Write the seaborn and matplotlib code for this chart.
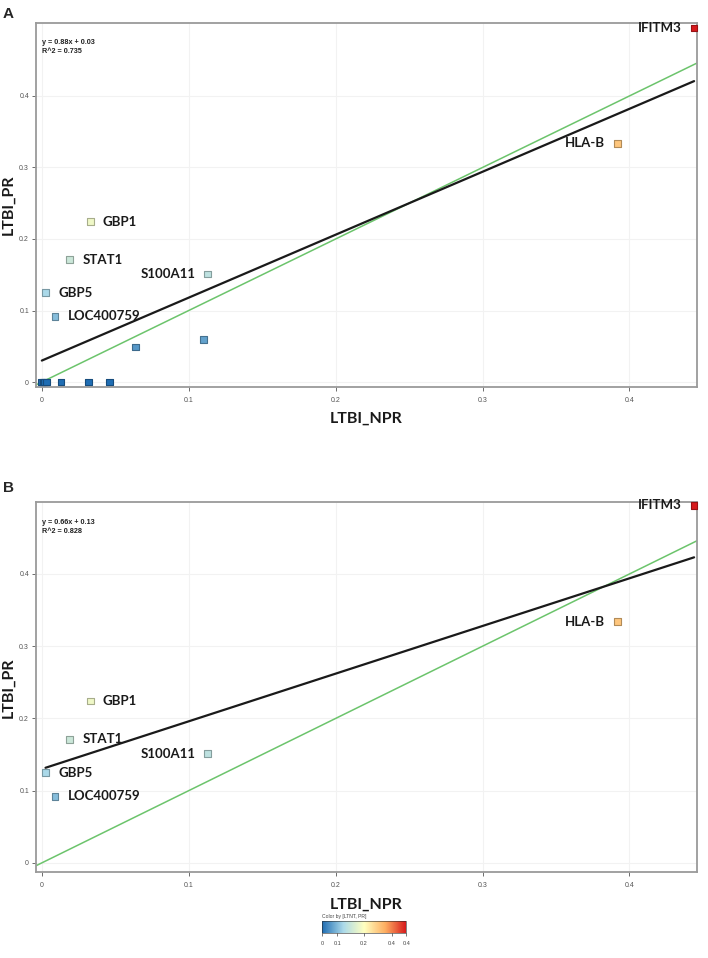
import matplotlib
matplotlib.use("Agg")
import matplotlib.pyplot as plt
import matplotlib.colors as mcolors
import numpy as np
import pandas as pd
import seaborn as sns

# ── Data ──────────────────────────────────────────────────────────────────────
genes = ["IFITM3", "HLA-B", "GBP1", "STAT1", "S100A11", "GBP5", "LOC400759"]
npr = [0.444, 0.392, 0.033, 0.019, 0.113, 0.0025, 0.009]
pr = [0.495, 0.334, 0.224, 0.171, 0.151, 0.125, 0.092]

# unlabelled genes only shown in panel A
npr_extra = [0.064, 0.110, 0.0, 0.001, 0.002, 0.003, 0.013, 0.032, 0.046]
pr_extra = [0.049, 0.060, 0.0, 0.0, 0.0, 0.0, 0.0, 0.0, 0.0]

fit_a = (0.88, 0.03, 0.735)
fit_b = (0.66, 0.13, 0.828)

x_ticks = [0, 0.1, 0.2, 0.3, 0.4]
y_ticks = [0, 0.1, 0.2, 0.3, 0.4]
cbar_ticks = [0, 0.09, 0.245, 0.41, 0.495]
cbar_labels = ["0", "0.1", "0.2", "0.4", "0.4"]

# label placement: side of the marker
label_side = {"IFITM3": "left", "HLA-B": "left", "S100A11": "left",
              "GBP1": "right", "STAT1": "right", "GBP5": "right", "LOC400759": "right"}

CMAP = mcolors.LinearSegmentedColormap.from_list(
    "ltbi", ["#1f6db3", "#abd9e9", "#ffffbf", "#fdae61", "#d7191c"])
NORM = mcolors.Normalize(vmin=0, vmax=0.495)
LABEL_FONT = ["Lato", "DejaVu Sans"]

sns.set_theme(style="white")
plt.rcParams["font.family"] = ["Liberation Sans", "DejaVu Sans"]

fig = plt.figure(figsize=(7.08, 9.58), dpi=100)
ax_a = fig.add_axes([0.0508, 0.596, 0.9337, 0.380])
ax_b = fig.add_axes([0.0508, 0.0895, 0.9337, 0.386])


def draw_panel(ax, df, fit, ylim):
    slope, icept, r2 = fit
    ax.grid(True, color="#f2f2f2", lw=0.8)
    ax.set_axisbelow(True)

    # y = x reference
    ax.axline((0, 0), slope=1, color="#6cc46c", lw=1.1, zorder=2)

    # regression line over the data range
    xs = np.array([df["npr"].min(), df["npr"].max()])
    sns.lineplot(x=xs, y=slope * xs + icept, ax=ax, color="#1a1a1a", lw=1.6, zorder=3)

    cols = [CMAP(NORM(v)) for v in df["pr"]]
    edges = [tuple(np.array(c[:3]) * 0.7) for c in cols]
    sns.scatterplot(data=df, x="npr", y="pr", marker="s", s=24, c=cols,
                    edgecolor=edges, linewidth=0.8, ax=ax, zorder=4, legend=False,
                    clip_on=False)

    for g, x, y in zip(df["gene"], df["npr"], df["pr"]):
        if not g:
            continue
        if label_side[g] == "left":
            ax.annotate(g, (x, y), xytext=(-9, 0), textcoords="offset points",
                        ha="right", va="center", fontsize=9.5, fontweight="bold",
                        family=LABEL_FONT, color="#1a1a1a")
        else:
            ax.annotate(g, (x, y), xytext=(9, 0), textcoords="offset points",
                        ha="left", va="center", fontsize=9.5, fontweight="bold",
                        family=LABEL_FONT, color="#1a1a1a")

    ax.text(0.009, 0.955, f"y = {slope:.2f}x + {icept:.2f}\nR^2 = {r2:.3f}",
            transform=ax.transAxes, ha="left", va="top", fontsize=5.2,
            fontweight="bold", color="#222222", linespacing=1.4)

    ax.set_xlim(-0.004, 0.446)
    ax.set_ylim(*ylim)
    ax.set_xticks(x_ticks)
    ax.set_yticks(y_ticks)
    ax.set_xticklabels([f"{t:g}" for t in x_ticks])
    ax.set_yticklabels([f"{t:g}" for t in y_ticks])
    ax.tick_params(axis="both", labelsize=5, colors="#555555", length=3, width=0.6,
                   direction="out", bottom=True, left=True, pad=4)
    ax.tick_params(axis="y", pad=2)
    for sp in ax.spines.values():
        sp.set_color("#9a9a9a")
        sp.set_linewidth(1.3)
    ax.set_xlabel("LTBI_NPR", fontsize=11.5, fontweight="bold", family=LABEL_FONT,
                  labelpad=6, color="#1a1a1a")
    ax.set_ylabel("LTBI_PR", fontsize=11.5, fontweight="bold", family=LABEL_FONT,
                  color="#1a1a1a")
    ax.yaxis.set_label_coords(-0.031, 0.5)


df_a = pd.DataFrame({"gene": genes + [""] * len(npr_extra),
                     "npr": npr + npr_extra, "pr": pr + pr_extra})
df_b = pd.DataFrame({"gene": genes, "npr": npr, "pr": pr})

draw_panel(ax_a, df_a, fit_a, (-0.007, 0.502))
draw_panel(ax_b, df_b, fit_b, (-0.013, 0.499))

fig.text(0.004, 0.993, "A", fontsize=11, fontweight="bold", va="top")
fig.text(0.004, 0.498, "B", fontsize=11, fontweight="bold", va="top")

# colour legend
cax = fig.add_axes([0.455, 0.026, 0.119, 0.0125])
sm = plt.cm.ScalarMappable(norm=NORM, cmap=CMAP)
cb = fig.colorbar(sm, cax=cax, orientation="horizontal")
cb.outline.set_linewidth(0.4)
cb.set_ticks(cbar_ticks)
cb.set_ticklabels(cbar_labels)
cax.tick_params(labelsize=4, length=2, width=0.5, colors="#444444", pad=4)
cax.set_title("Color by [LTNT, PR]", fontsize=3.6, loc="left", pad=2, color="#444444")

fig.savefig("out.png", dpi=100, facecolor="white")
